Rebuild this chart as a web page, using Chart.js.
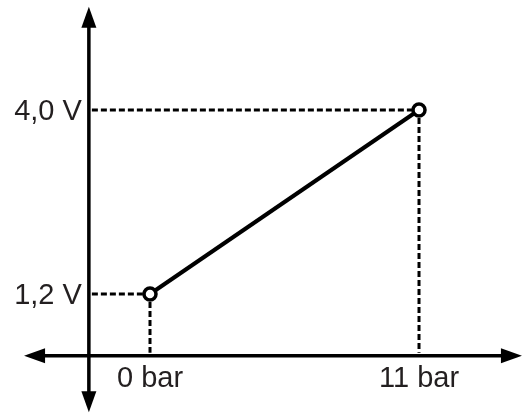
<!DOCTYPE html>
<html>
<head>
<meta charset="utf-8">
<script src="https://cdn.jsdelivr.net/npm/chart.js@4/dist/chart.umd.min.js"></script>
<style>
  html, body { margin: 0; padding: 0; background: #fff; }
  #wrap { width: 526px; height: 420px; }
</style>
</head>
<body>
<div id="wrap"><canvas id="sensorChart"></canvas></div>
<script>
// data
const pressure = [0, 11];          // bar
const voltage = [1.2, 4.0];        // V
const pressureLabels = ['0 bar', '11 bar'];
const voltageLabels = ['1,2 V', '4,0 V'];

// where the two arrow axes cross, and how far they run (in data units)
const crossX = -2.5;
const crossY = 0.26;
const xAxisSpan = [-5.15, 15.21];
const yAxisSpan = [-0.6, 5.57];

const FONT = '29px "Liberation Sans", Arial, sans-serif';

function arrowHead(ctx, x, y, dir) {
  // dir: 'up' | 'down' | 'left' | 'right'
  const len = 21, half = 7.5;
  ctx.beginPath();
  if (dir === 'up') {
    ctx.moveTo(x, y); ctx.lineTo(x - half, y + len); ctx.lineTo(x + half, y + len);
  } else if (dir === 'down') {
    ctx.moveTo(x, y); ctx.lineTo(x - half, y - len); ctx.lineTo(x + half, y - len);
  } else if (dir === 'left') {
    ctx.moveTo(x, y); ctx.lineTo(x + len, y - half); ctx.lineTo(x + len, y + half);
  } else {
    ctx.moveTo(x, y); ctx.lineTo(x - len, y - half); ctx.lineTo(x - len, y + half);
  }
  ctx.closePath();
  ctx.fill();
}

const axesPlugin = {
  id: 'arrowAxes',
  beforeDatasetsDraw(chart) {
    const ctx = chart.ctx;
    const xs = chart.scales.x, ys = chart.scales.y;
    const ax = xs.getPixelForValue(crossX);
    const ay = ys.getPixelForValue(crossY);

    ctx.save();
    // dashed guides from each point to the axes
    ctx.strokeStyle = '#000';
    ctx.lineWidth = 3;
    ctx.setLineDash([6, 3]);
    pressure.forEach((p, i) => {
      const px = xs.getPixelForValue(p);
      const py = ys.getPixelForValue(voltage[i]);
      ctx.beginPath();
      ctx.moveTo(ax + 3, py);
      ctx.lineTo(px - 7, py);
      ctx.stroke();
      ctx.beginPath();
      ctx.moveTo(px, py + 8);
      ctx.lineTo(px, ay - 3);
      ctx.stroke();
    });
    ctx.setLineDash([]);

    // axes
    ctx.lineWidth = 3.5;
    ctx.fillStyle = '#000';
    const left = xs.getPixelForValue(xAxisSpan[0]);
    const right = xs.getPixelForValue(xAxisSpan[1]);
    const top = ys.getPixelForValue(yAxisSpan[1]);
    const bottom = ys.getPixelForValue(yAxisSpan[0]);
    ctx.beginPath();
    ctx.moveTo(left + 10, ay);
    ctx.lineTo(right - 10, ay);
    ctx.moveTo(ax, top + 10);
    ctx.lineTo(ax, bottom - 10);
    ctx.stroke();
    arrowHead(ctx, left, ay, 'left');
    arrowHead(ctx, right, ay, 'right');
    arrowHead(ctx, ax, top, 'up');
    arrowHead(ctx, ax, bottom, 'down');
    ctx.restore();
  },
  afterDraw(chart) {
    const ctx = chart.ctx;
    const xs = chart.scales.x, ys = chart.scales.y;
    const ax = xs.getPixelForValue(crossX);
    const ay = ys.getPixelForValue(crossY);
    ctx.save();
    ctx.font = FONT;
    ctx.fillStyle = '#231f20';
    ctx.textBaseline = 'middle';
    ctx.textAlign = 'right';
    voltage.forEach((v, i) => {
      ctx.fillText(voltageLabels[i], ax - 7, ys.getPixelForValue(v) + 2);
    });
    ctx.textAlign = 'center';
    pressure.forEach((p, i) => {
      ctx.fillText(pressureLabels[i], xs.getPixelForValue(p), ay + 23);
    });
    ctx.restore();
  },
};

Chart.register(axesPlugin);

const ctx = document.getElementById('sensorChart').getContext('2d');
const chart = new Chart(ctx, {
  type: 'line',
  data: {
    datasets: [
      {
        data: pressure.map((p, i) => ({ x: p, y: voltage[i] })),
        borderColor: '#000',
        borderWidth: 4,
        tension: 0,
        fill: false,
        pointRadius: 6,
        pointBorderWidth: 3.5,
        pointBorderColor: '#000',
        pointBackgroundColor: '#fff',
      },
    ],
  },
  options: {
    responsive: true,
    maintainAspectRatio: false,
    animation: false,
    events: [],
    layout: { padding: 0, autoPadding: false },
    plugins: {
      legend: { display: false },
      tooltip: { enabled: false },
    },
    scales: {
      x: { type: 'linear', display: false, min: -6.134, max: 15.375 },
      y: { type: 'linear', display: false, min: -0.717, max: 5.674 },
    },
  },
});
</script>
</body>
</html>
